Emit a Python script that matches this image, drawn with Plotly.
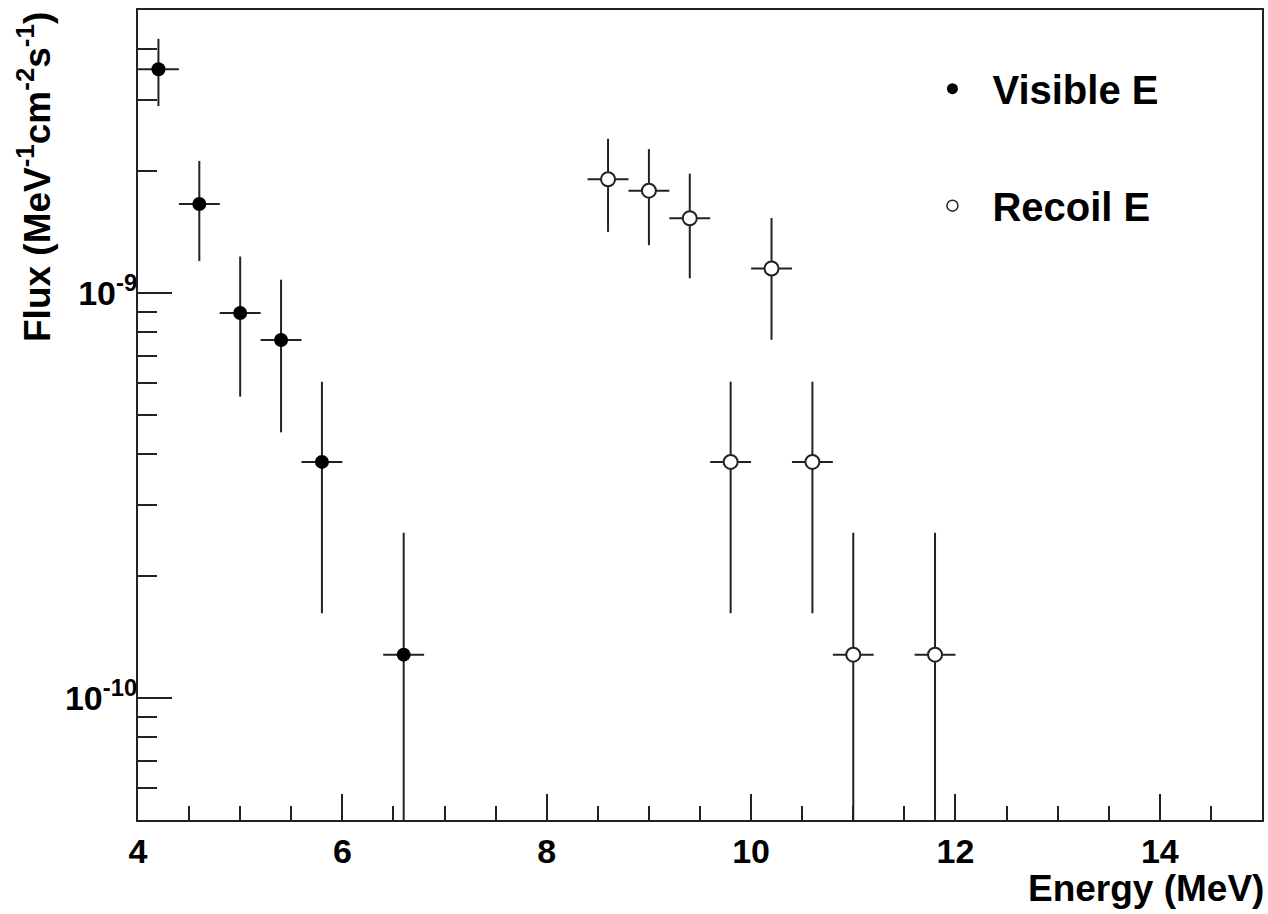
import plotly.graph_objects as go

# Visible-energy spectrum (filled markers)
visible_energy = [4.2, 4.6, 5.0, 5.4, 5.8, 6.6]
visible_flux = [3.57e-9, 1.66e-9, 8.93e-10, 7.66e-10, 3.83e-10, 1.28e-10]
visible_err = [6.75e-10, 4.60e-10, 3.38e-10, 3.13e-10, 2.21e-10, 1.28e-10]

# Recoil-energy spectrum (open markers)
recoil_energy = [8.6, 9.0, 9.4, 9.8, 10.2, 10.6, 11.0, 11.8]
recoil_flux = [1.91e-9, 1.79e-9, 1.53e-9, 3.83e-10, 1.15e-9, 3.83e-10, 1.28e-10, 1.28e-10]
recoil_err = [4.94e-10, 4.77e-10, 4.42e-10, 2.21e-10, 3.83e-10, 2.21e-10, 1.28e-10, 1.28e-10]

bin_half_width = 0.2

y_major = [1e-10, 1e-9]
y_major_text = ["10<sup>-10</sup>", "10<sup>-9</sup>"]
y_minor = [6e-11, 7e-11, 8e-11, 9e-11,
           2e-10, 3e-10, 4e-10, 5e-10, 6e-10, 7e-10, 8e-10, 9e-10,
           2e-9, 3e-9, 4e-9]

FONT = "Liberation Sans, Arial, Helvetica, sans-serif"
INK = "#222222"


def err_x(n):
    return dict(type="data", array=[bin_half_width] * n, width=0,
                thickness=2, color=INK)


def err_y(vals):
    return dict(type="data", array=vals, width=0, thickness=2, color=INK)


fig = go.Figure()

fig.add_trace(go.Scatter(
    x=visible_energy, y=visible_flux, mode="markers", showlegend=False,
    marker=dict(symbol="circle", size=14, color="black",
                line=dict(width=0)),
    error_x=err_x(len(visible_energy)), error_y=err_y(visible_err),
))

fig.add_trace(go.Scatter(
    x=recoil_energy, y=recoil_flux, mode="markers", showlegend=False,
    marker=dict(symbol="circle", size=14, color="white",
                line=dict(width=2, color=INK)),
    error_x=err_x(len(recoil_energy)), error_y=err_y(recoil_err),
))

# Legend entries
fig.add_trace(go.Scatter(
    x=[None], y=[None], mode="markers", name="Visible E", legendgroup="v",
    marker=dict(symbol="circle", size=11, color="black", line=dict(width=0)),
))
fig.add_trace(go.Scatter(
    x=[None], y=[None], mode="markers", name="Recoil E", legendgroup="r",
    marker=dict(symbol="circle", size=11, color="white",
                line=dict(width=1.5, color=INK)),
))

axis_common = dict(
    showline=True, linewidth=2, linecolor=INK, mirror=True,
    ticks="inside", tickwidth=2, tickcolor=INK, showgrid=False,
    zeroline=False,
    tickfont=dict(family=FONT, size=34, color="black", weight="bold"),
)

fig.update_xaxes(
    range=[4, 15], tick0=4, dtick=2, ticklen=26,
    minor=dict(dtick=0.5, tick0=4, ticks="inside", ticklen=14,
               tickwidth=2, tickcolor=INK, showgrid=False),
    **axis_common,
)
fig.update_yaxes(
    type="log", range=[-10.30103, -8.30103],
    tickmode="array", tickvals=y_major, ticktext=y_major_text, ticklen=34,
    ticklabelstandoff=-8,
    minor=dict(tickmode="array", tickvals=y_minor, ticks="inside",
               ticklen=19, tickwidth=2, tickcolor=INK, showgrid=False),
    **axis_common,
)

fig.add_annotation(
    text="Energy (MeV)", xref="paper", yref="paper", x=1, y=0,
    xanchor="right", yanchor="middle", yshift=-68, xshift=4, showarrow=False,
    font=dict(family=FONT, size=37, color="black", weight="bold"),
)
fig.add_annotation(
    text="Flux (MeV<sup>-1</sup>cm<sup>-2</sup>s<sup>-1</sup>)",
    xref="paper", yref="paper", x=0, y=1, xanchor="center", yanchor="top",
    xshift=-104, textangle=-90, showarrow=False,
    font=dict(family=FONT, size=37, color="black", weight="bold"),
)

fig.update_layout(
    width=1268, height=914,
    margin=dict(l=138, r=4, t=10, b=94),
    paper_bgcolor="white", plot_bgcolor="white",
    showlegend=True,
    legend=dict(
        x=0.689, y=0.943, xanchor="left", yanchor="top",
        bgcolor="rgba(0,0,0,0)", borderwidth=0,
        tracegroupgap=62, itemwidth=70,
        font=dict(family=FONT, size=40, color="black", weight="bold"),
    ),
)

fig.write_html("out.html")
